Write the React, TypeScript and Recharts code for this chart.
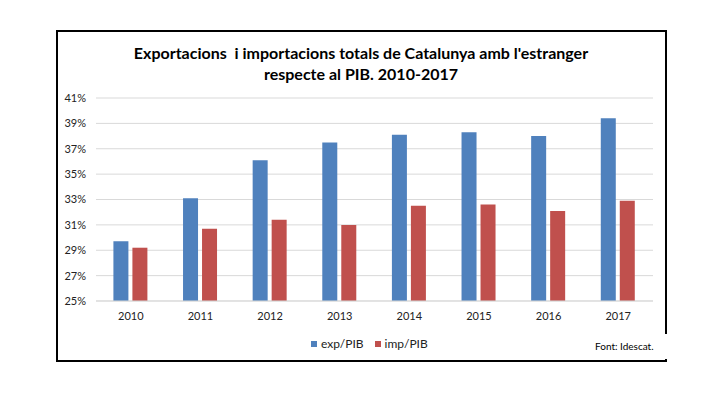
import { BarChart, Bar, XAxis, YAxis, CartesianGrid } from 'recharts';

const years = ['2010', '2011', '2012', '2013', '2014', '2015', '2016', '2017'];
const expPib = [29.7, 33.1, 36.1, 37.5, 38.1, 38.3, 38.0, 39.4];
const impPib = [29.2, 30.7, 31.4, 31.0, 32.5, 32.6, 32.1, 32.9];
const yTicks = [25, 27, 29, 31, 33, 35, 37, 39, 41];

const series = [
  { key: 'exp', name: 'exp/PIB', color: '#4f81bd' },
  { key: 'imp', name: 'imp/PIB', color: '#c0504d' },
];

const data = years.map((year, i) => ({ year, exp: expPib[i], imp: impPib[i] }));

const FONT = 'Lato, "Open Sans", sans-serif';

export default function App() {
  return (
    <div style={{ position: 'absolute', left: 0, top: 0, width: 726, height: 396, background: '#fff', fontFamily: FONT }}>
      <div
        style={{
          position: 'absolute',
          left: 56,
          top: 30,
          width: 611,
          height: 332,
          border: '2px solid #000',
          boxSizing: 'border-box',
        }}
      />
      {/* gap in the right border behind the source note */}
      <div style={{ position: 'absolute', left: 663, top: 334, width: 6, height: 25, background: '#fff' }} />
      <div
        style={{
          position: 'absolute',
          left: 0,
          top: 42,
          width: 722,
          textAlign: 'center',
          fontWeight: 'bold',
          fontSize: 16,
          lineHeight: '21px',
          color: '#000',
        }}
      >
        Exportacions&nbsp; i importacions totals de Catalunya amb l'estranger
        <br />
        respecte al PIB. 2010-2017
      </div>
      <div style={{ position: 'absolute', left: 0, top: 0 }}>
        <BarChart
          width={726}
          height={396}
          data={data}
          margin={{ top: 98, right: 73, bottom: 65, left: 0 }}
          barCategoryGap="25%"
          barGap={4}
        >
          <CartesianGrid vertical={false} stroke="#d9d9d9" />
          <XAxis
            dataKey="year"
            height={30}
            tick={{ fontSize: 11, fill: '#222' }}
            axisLine={{ stroke: '#d9d9d9' }}
            tickLine={false}
            tickMargin={5}
          />
          <YAxis
            width={96}
            domain={[25, 41]}
            ticks={yTicks}
            tick={{ fontSize: 11, fill: '#222' }}
            tickFormatter={(v) => `${v}%`}
            axisLine={false}
            tickLine={false}
            tickMargin={4}
          />
          {series.map((s) => (
            <Bar key={s.key} dataKey={s.key} name={s.name} fill={s.color} isAnimationActive={false} />
          ))}
        </BarChart>
      </div>
      {/* legend */}
      <div style={{ position: 'absolute', left: 311, top: 337, display: 'flex', fontSize: 12, color: '#222', lineHeight: '14px' }}>
        {series.map((s) => (
          <div key={s.key} style={{ display: 'flex', alignItems: 'center', marginRight: 11 }}>
            <span style={{ width: 6, height: 6, background: s.color, marginRight: 4 }} />
            {s.name}
          </div>
        ))}
      </div>
      <div style={{ position: 'absolute', left: 595, top: 340, fontSize: 10, color: '#000' }}>Font: Idescat.</div>
    </div>
  );
}
